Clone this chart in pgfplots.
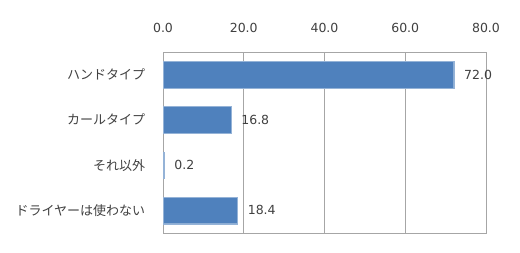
\documentclass[border=0pt]{standalone}
\usepackage{pgfplots}
\pgfplotsset{compat=1.18}
\usepackage{fontspec}
\setmainfont{Noto Sans CJK JP}
\newfontfamily\numfont{DejaVu Sans}
\definecolor{barblue}{HTML}{4F81BD}
\definecolor{gridgray}{HTML}{A6A6A6}
\definecolor{labelgray}{HTML}{404040}
\begin{document}
\begin{tikzpicture}[x=1pt,y=1pt]
\useasboundingbox (0,0) rectangle (520,252);
\begin{axis}[
  at={(163pt,19pt)}, anchor=south west,
  scale only axis, width=323pt, height=181pt,
  xbar, bar width=26.7pt,
  xmin=0, xmax=80, xtick={0,20,40,60,80},
  ymin=-0.5, ymax=3.5, y dir=reverse,
  ytick={0,1,2,3},
  yticklabels={ハンドタイプ,カールタイプ,それ以外,ドライヤーは使わない},
  xticklabel pos=upper,
  xmajorgrids, major grid style={gridgray, line width=0.8pt},
  axis line style={gridgray, line width=0.8pt},
  tick style={draw=none},
  /pgf/number format/assume math mode=true,
  /pgf/number format/.cd, fixed, fixed zerofill, precision=1, /pgfplots/.cd,
  xticklabel style={font=\numfont\fontsize{12.5}{14}\selectfont, text=labelgray, yshift=16pt},
  yticklabel style={font=\fontsize{13}{15}\selectfont, text=labelgray, xshift=-10pt},
  nodes near coords,
  nodes near coords align={horizontal},
  every node near coord/.append style={font=\numfont\fontsize{12.5}{14}\selectfont, text=labelgray, xshift=7pt},
]
\addplot[fill=barblue, draw=barblue!60!white] coordinates {
  (72.0,0) (16.8,1) (0.2,2) (18.4,3)
};
\end{axis}
\end{tikzpicture}
\end{document}
